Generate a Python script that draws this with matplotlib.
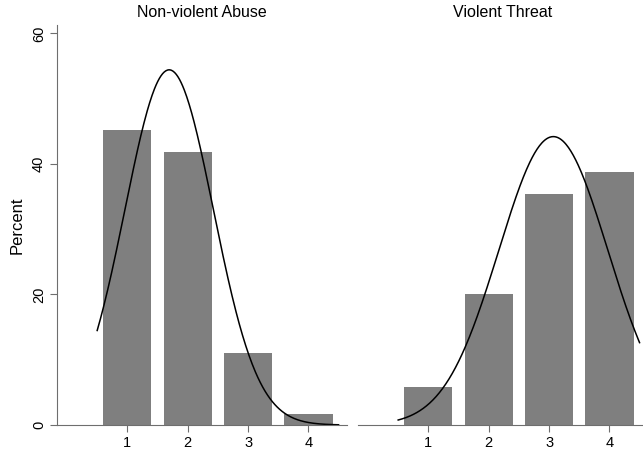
import numpy as np
import matplotlib.pyplot as plt

plt.rcParams['font.family'] = ['Liberation Sans', 'DejaVu Sans']

# response categories and percent of respondents in each
categories = [1, 2, 3, 4]
nonviolent_pct = [45.2, 41.9, 11.1, 1.7]
violent_pct = [5.8, 20.0, 35.4, 38.7]
panel_titles = ['Non-violent Abuse', 'Violent Threat']

bar_color = '#7f7f7f'
axis_color = '#6e6e6e'


def normal_overlay(cats, pct):
    # normal density with the mean/sd of the histogram, scaled to percent
    c = np.array(cats, dtype=float)
    p = np.array(pct) / np.sum(pct)
    mu = np.sum(c * p)
    sd = np.sqrt(np.sum(p * (c - mu) ** 2))
    xs = np.linspace(c.min() - 0.5, c.max() + 0.5, 300)
    ys = 100 * np.exp(-0.5 * ((xs - mu) / sd) ** 2) / (sd * np.sqrt(2 * np.pi))
    return xs, ys


fig = plt.figure(figsize=(6.43, 4.51), dpi=100)
W, H = 643, 451
ax1 = fig.add_axes([57 / W, 26 / H, 290 / W, 400 / H])
ax2 = fig.add_axes([358 / W, 26 / H, 290 / W, 400 / H])

for ax, pct, title in zip([ax1, ax2], [nonviolent_pct, violent_pct], panel_titles):
    ax.bar(categories, pct, width=0.8, color=bar_color, edgecolor='none')
    xs, ys = normal_overlay(categories, pct)
    ax.plot(xs, ys, color='black', lw=1.1)
    ax.set_xlim(-0.166, 4.64)
    ax.set_ylim(0, 61.3)
    ax.set_xticks(categories)
    ax.set_title(title, fontsize=11.5, pad=6)
    for side in ['top', 'right']:
        ax.spines[side].set_visible(False)
    ax.spines['bottom'].set_color(axis_color)
    ax.spines['left'].set_color(axis_color)
    ax.tick_params(axis='x', length=5, width=0.8, color=axis_color,
                   labelsize=10.5, pad=3)

ax1.set_yticks([0, 20, 40, 60])
ax1.tick_params(axis='y', length=5, width=0.8, color=axis_color, labelsize=10.5, pad=3)
for lab in ax1.get_yticklabels():
    lab.set_rotation(90)
    lab.set_va('center')
ax1.set_ylabel('Percent', fontsize=12, labelpad=5)

ax2.spines['left'].set_visible(False)
ax2.set_yticks([])

fig.savefig('out.png', dpi=100)
